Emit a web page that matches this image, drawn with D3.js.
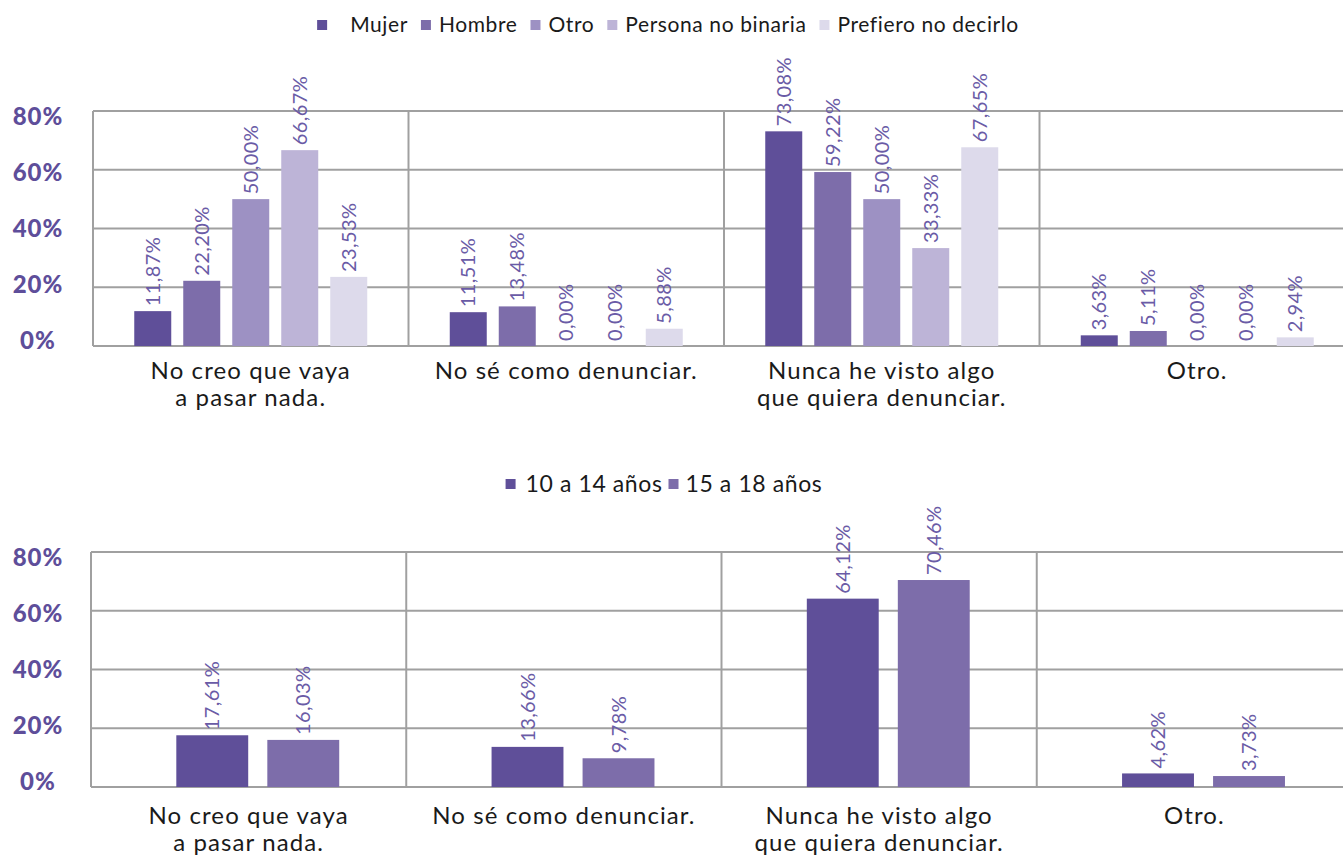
<!DOCTYPE html>
<html>
<head>
<meta charset="utf-8">
<script src="https://cdn.jsdelivr.net/npm/d3@7"></script>
<style>
  body { margin: 0; background: #fff; }
  svg { display: block; font-family: Lato, "Open Sans", sans-serif; }
</style>
</head>
<body>
<div id="chart"></div>
<script>
// categories (x axis, multi-line)
var categories = [
  ["No creo que vaya", "a pasar nada."],
  ["No sé como denunciar."],
  ["Nunca he visto algo", "que quiera denunciar."],
  ["Otro."]
];
var yTicks = [0, 20, 40, 60, 80];

// top chart: gender
var genderSeries = ["Mujer", "Hombre", "Otro", "Persona no binaria", "Prefiero no decirlo"];
var mujer      = [11.87, 11.51, 73.08, 3.63];
var hombre     = [22.20, 13.48, 59.22, 5.11];
var otro       = [50.00, 0.00, 50.00, 0.00];
var noBinaria  = [66.67, 0.00, 33.33, 0.00];
var prefiero   = [23.53, 5.88, 67.65, 2.94];
var genderColors = ["#5f4f99", "#7d6daa", "#9d91c3", "#bdb4d7", "#dddaeb"];

// bottom chart: age
var ageSeries = ["10 a 14 años", "15 a 18 años"];
var age10to14 = [17.61, 13.66, 64.12, 4.62];
var age15to18 = [16.03, 9.78, 70.46, 3.73];
var ageColors = ["#5f4f99", "#7d6daa"];

var width = 1343, height = 858;
var svg = d3.select("#chart").append("svg")
  .attr("width", width)
  .attr("height", height);

function fmt(v) {
  return v.toFixed(2).replace(".", ",") + "%";
}

function panel(cfg) {
  var g = svg.append("g");
  var rows = cfg.series.map(function (name, i) {
    return { name: name, values: cfg.values[i], color: cfg.colors[i] };
  });

  var x0 = d3.scaleBand()
    .domain(d3.range(categories.length))
    .range([cfg.left, cfg.right]);
  var x1 = d3.scaleBand()
    .domain(d3.range(rows.length))
    .range([0, x0.bandwidth()])
    .paddingInner(cfg.padIn)
    .paddingOuter(cfg.padOut)
    .align(cfg.align);
  var y = d3.scaleLinear().domain([0, 80]).range([cfg.bottom, cfg.top]);
  // tick labels sit slightly inside the grid, as in the original
  var yLab = d3.scaleLinear().domain([0, 80]).range([cfg.bottom - 5, cfg.top + 6]);

  // grid
  g.selectAll(".hgrid")
    .data(yTicks)
    .enter()
    .append("line")
    .attr("x1", cfg.left).attr("x2", cfg.right)
    .attr("y1", function (d) { return y(d); })
    .attr("y2", function (d) { return y(d); })
    .attr("stroke", "#a0a0a0")
    .attr("stroke-width", 2);

  g.selectAll(".vgrid")
    .data(d3.range(categories.length + 1))
    .enter()
    .append("line")
    .attr("x1", function (d) { return cfg.left + d * x0.step(); })
    .attr("x2", function (d) { return cfg.left + d * x0.step(); })
    .attr("y1", y(80)).attr("y2", y(0))
    .attr("stroke", "#a0a0a0")
    .attr("stroke-width", 2);

  // y labels
  g.selectAll(".ylab")
    .data(yTicks)
    .enter()
    .append("text")
    .attr("x", 38)
    .attr("y", function (d) { return yLab(d); })
    .attr("dy", "0.35em")
    .attr("text-anchor", "middle")
    .style("font-size", "24px")
    .style("font-weight", "900")
    .style("letter-spacing", "1px")
    .style("fill", "#5e4e9a")
    .text(function (d) { return d + "%"; });

  // bars
  var groups = g.selectAll(".cat")
    .data(categories)
    .enter()
    .append("g")
    .attr("transform", function (d, i) { return "translate(" + x0(i) + ",0)"; });

  groups.each(function (c, ci) {
    var grp = d3.select(this);
    grp.selectAll("rect")
      .data(rows)
      .enter()
      .append("rect")
      .attr("x", function (d, i) { return x1(i); })
      .attr("width", x1.bandwidth())
      .attr("y", function (d) { return y(d.values[ci]); })
      .attr("height", function (d) { return y(0) - y(d.values[ci]); })
      .attr("fill", function (d) { return d.color; });

    grp.selectAll(".val")
      .data(rows)
      .enter()
      .append("text")
      .attr("transform", function (d, i) {
        return "translate(" + (x1(i) + x1.bandwidth() / 2) + "," + (y(d.values[ci]) - 5) + ") rotate(-90)";
      })
      .attr("dy", "0.35em")
      .style("font-size", "20px")
      .style("letter-spacing", "0.4px")
      .style("fill", "#6a5ba6")
      .text(function (d) { return fmt(d.values[ci]); });

    var lab = grp.append("text")
      .attr("text-anchor", "middle")
      .style("font-size", "24px")
      .style("letter-spacing", "1.1px")
      .style("fill", "#1a1a1a");
    c.forEach(function (line, li) {
      lab.append("tspan")
        .attr("x", x0.bandwidth() / 2)
        .attr("y", y(0) + cfg.labOff + li * 27)
        .text(line);
    });
  });

  // legend
  var leg = g.append("g");
  var xpos = 0;
  rows.forEach(function (d, i) {
    leg.append("rect")
      .attr("x", xpos).attr("y", -5)
      .attr("width", 10).attr("height", 10)
      .attr("fill", d.color);
    xpos += 10 + (i === 0 ? cfg.legFirstGap : cfg.legGap);
    var t = leg.append("text")
      .attr("x", xpos)
      .attr("y", 0)
      .attr("dy", "0.35em")
      .style("font-size", cfg.legFont)
      .style("letter-spacing", "0.6px")
      .style("fill", "#1a1a1a")
      .text(d.name);
    xpos += t.node().getComputedTextLength() + cfg.legItemGap;
  });
  xpos -= cfg.legItemGap;
  leg.attr("transform", "translate(" + (cfg.legendX - xpos / 2) + "," + cfg.legendY + ")");
}

panel({
  series: genderSeries,
  values: [mujer, hombre, otro, noBinaria, prefiero],
  colors: genderColors,
  left: 93, right: 1355, top: 111, bottom: 346,
  padIn: 0.245, padOut: 0.842, align: 0.5,
  labOff: 33,
  legendX: 668, legendY: 25, legFont: "21px",
  legFirstGap: 23, legGap: 8, legItemGap: 13
});

panel({
  series: ageSeries,
  values: [age10to14, age15to18],
  colors: ageColors,
  left: 91, right: 1352, top: 552, bottom: 787,
  padIn: 0.21, padOut: 0.837, align: 0.56,
  labOff: 37,
  legendX: 664, legendY: 484, legFont: "23px",
  legFirstGap: 10, legGap: 7, legItemGap: 6
});
</script>
</body>
</html>
